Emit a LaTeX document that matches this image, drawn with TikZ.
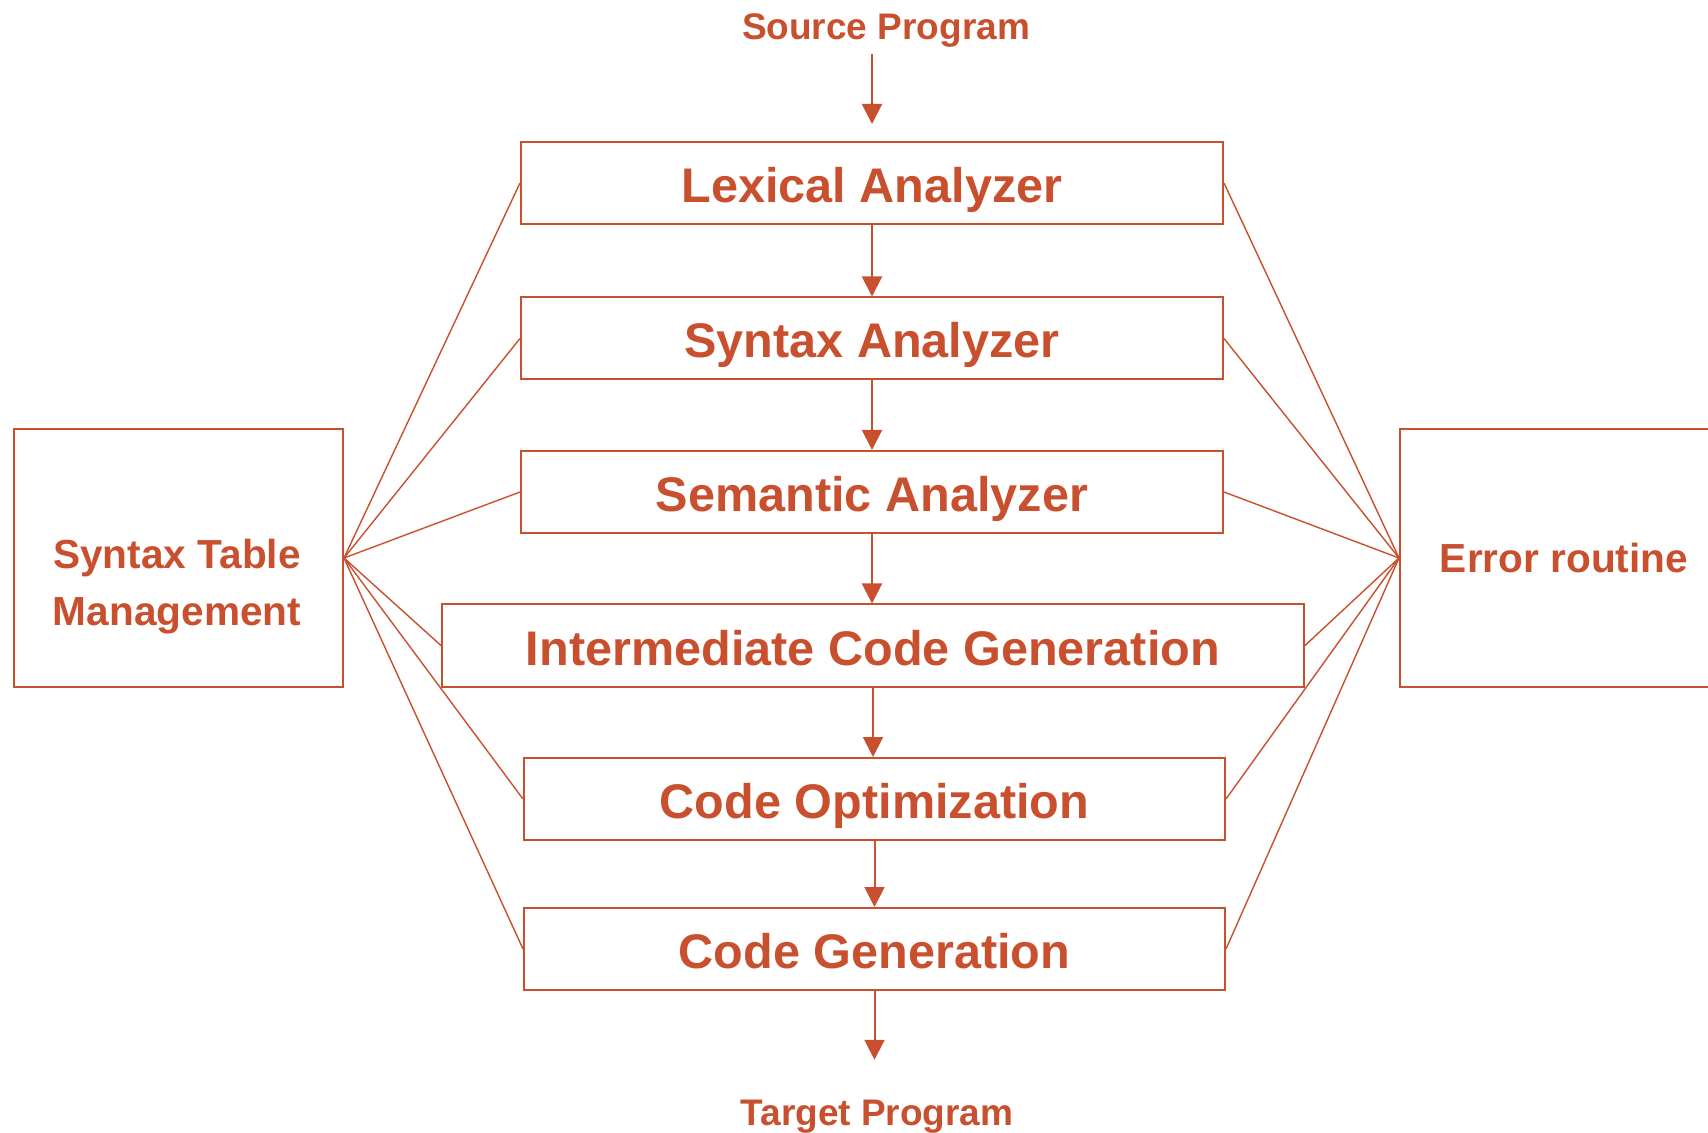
\documentclass[tikz,border=0pt]{standalone}
\usepackage{fontspec}
\setmainfont{Liberation Sans}
\usepackage{tikz}
\usetikzlibrary{arrows.meta}
\definecolor{rust}{RGB}{200,80,46}

\begin{document}
\begin{tikzpicture}[x=0.5pt, y=-0.5pt,
        stage/.style={draw=rust, line width=1pt, minimum width=351pt, minimum height=41pt,
            inner sep=0pt, text height=19.5pt, text depth=0pt, text=rust,
            font=\fontsize{24.3}{28}\selectfont\bfseries},
        side/.style={draw=rust, line width=1pt, minimum width=164.5pt, minimum height=128.5pt,
            inner sep=0pt, text=rust, font=\fontsize{20.3}{28.5}\selectfont\bfseries},
        sidetext/.style={text=rust, align=center, font=\fontsize{20.3}{28.5}\selectfont\bfseries},
        endtext/.style={text=rust, font=\fontsize{18.5}{22}\selectfont\bfseries},
        flow/.style={draw=rust, line width=1pt, -{Triangle[width=10pt, length=10pt]}},
        fan/.style={draw=rust, line width=0.7pt}]
        \useasboundingbox (0,0) rectangle (1708,1133);
        % Stages
        \node [stage] (lex) at (872,183) {Lexical Analyzer};
        \node [stage] (syn) at (872,338.5) {Syntax Analyzer};
        \node [stage] (sem) at (872,492) {Semantic Analyzer};
        \node [stage, minimum width=431pt] (icg) at (873,645.5) {Intermediate Code Generation};
        \node [stage, minimum width=350.5pt] (opt) at (874.5,799) {Code Optimization};
        \node [stage, minimum width=350.5pt] (gen) at (874.5,949) {Code Generation};
        % Side boxes
        \node [side] (stm) at (178.5,558) {};
        \node [sidetext] (stmtext) at (177,586.5) {Syntax Table\\Management};
        \node [side, minimum width=164pt] (err) at (1564,558) {Error routine};
        % Ends
        \node [endtext] (src) at (886,30.5) {Source Program};
        \node [endtext] (tgt) at (877,1116.5) {Target Program};
        % Arrows
        \draw [flow] (src.south -| lex.north) -- ([yshift=8.5pt]lex.north);
        \foreach \a/\b in {lex/syn, syn/sem, sem/icg, icg/opt, opt/gen}
            \draw [flow] (\a.south) -- (\a.south |- \b.north);
        \draw [flow, shorten >=16.5pt] (gen.south) -- (gen.south |- tgt.north);
        % Fans
        \foreach \s in {lex, syn, sem, icg, opt, gen} {
            \draw [fan] (stm.east) -- (\s.west);
            \draw [fan] (err.west) -- (\s.east);
        }
    \end{tikzpicture}
\end{document}
